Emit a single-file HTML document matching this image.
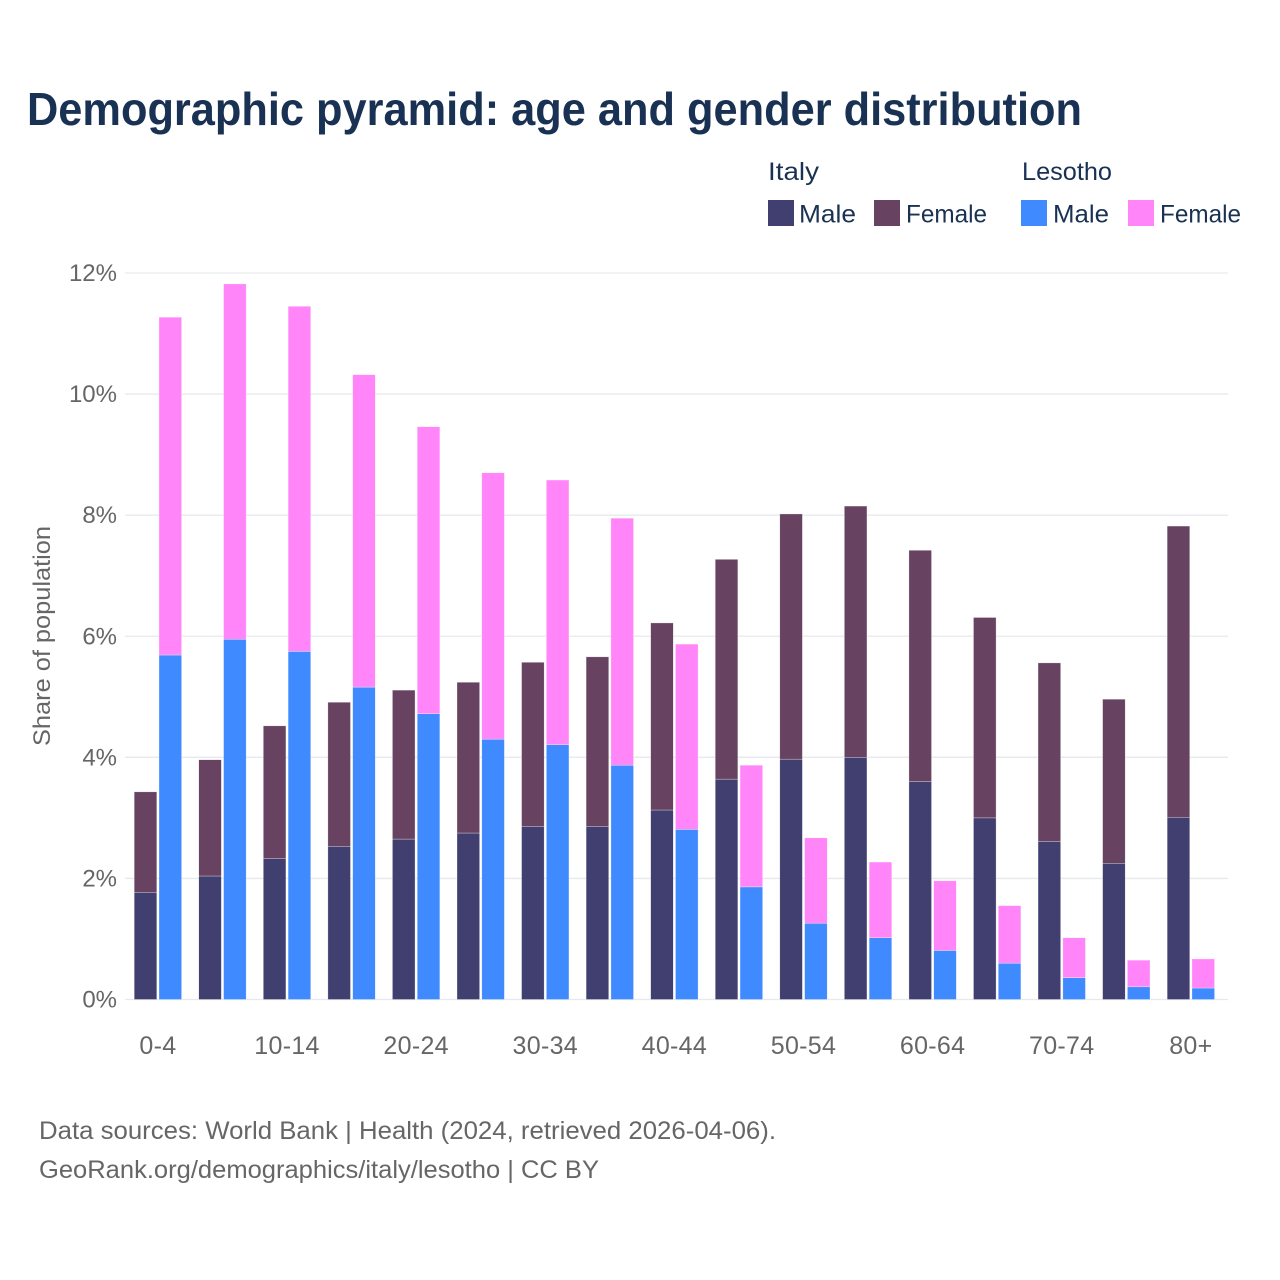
<!DOCTYPE html>
<html lang="en">
<head>
<meta charset="utf-8">
<title>Demographic pyramid: age and gender distribution</title>
<style>
html,body{margin:0;padding:0;background:#fff;}
svg{display:block;font-family:"Liberation Sans",sans-serif;}
</style>
</head>
<body>
<svg id="chart" width="1280" height="1280" viewBox="0 0 1280 1280" xmlns="http://www.w3.org/2000/svg">
  <rect width="1280" height="1280" fill="#ffffff"/>
  <text x="27" y="125" font-size="46" font-weight="700" fill="#193153" textLength="1055" lengthAdjust="spacingAndGlyphs">Demographic pyramid: age and gender distribution</text>

  <g font-size="25" fill="#193153">
    <text x="768" y="180" textLength="51" lengthAdjust="spacingAndGlyphs">Italy</text>
    <text x="1022" y="180" textLength="90" lengthAdjust="spacingAndGlyphs">Lesotho</text>
    <rect x="768" y="200" width="26" height="26" fill="#413f70"/>
    <text x="799" y="222.5" textLength="57" lengthAdjust="spacingAndGlyphs">Male</text>
    <rect x="874" y="200" width="26" height="26" fill="#674261"/>
    <text x="906" y="222.5" textLength="81" lengthAdjust="spacingAndGlyphs">Female</text>
    <rect x="1021" y="200" width="26" height="26" fill="#408aff"/>
    <text x="1053" y="222.5" textLength="56" lengthAdjust="spacingAndGlyphs">Male</text>
    <rect x="1128" y="200" width="26" height="26" fill="#ff85f9"/>
    <text x="1160" y="222.5" textLength="81" lengthAdjust="spacingAndGlyphs">Female</text>
  </g>

  <g id="grid"></g>
  <g id="y-ticks"></g>
  <g id="bars"></g>
  <g id="x-ticks"></g>

  <text transform="translate(50,636) rotate(-90)" text-anchor="middle" font-size="24" fill="#666666" textLength="220" lengthAdjust="spacingAndGlyphs">Share of population</text>

  <g font-size="25" fill="#666666">
    <text x="39" y="1139" textLength="737" lengthAdjust="spacingAndGlyphs">Data sources: World Bank | Health (2024, retrieved 2026-04-06).</text>
    <text x="39" y="1178" textLength="560" lengthAdjust="spacingAndGlyphs">GeoRank.org/demographics/italy/lesotho | CC BY</text>
  </g>
</svg>
<script>
const categories = ["0-4","5-9","10-14","15-19","20-24","25-29","30-34","35-39","40-44","45-49","50-54","55-59","60-64","65-69","70-74","75-79","80+"];
const xTickLabels = ["0-4","10-14","20-24","30-34","40-44","50-54","60-64","70-74","80+"];
const yTickValues = [0,2,4,6,8,10,12];
const italyMale = [1.77,2.04,2.33,2.53,2.65,2.75,2.86,2.86,3.13,3.64,3.97,4.00,3.60,3.00,2.61,2.25,3.01];
const italyFemale = [1.66,1.92,2.19,2.38,2.46,2.49,2.71,2.80,3.09,3.63,4.05,4.15,3.82,3.31,2.95,2.71,4.81];
const lesothoMale = [5.69,5.95,5.75,5.16,4.72,4.30,4.21,3.87,2.81,1.86,1.26,1.02,0.81,0.60,0.36,0.21,0.19];
const lesothoFemale = [5.58,5.87,5.70,5.16,4.74,4.40,4.37,4.08,3.06,2.01,1.41,1.25,1.15,0.95,0.66,0.44,0.48];

const NS = "http://www.w3.org/2000/svg";
const plotLeft = 125, plotRight = 1228, plotBottom = 999.5, plotTop = 273, yMax = 12;
const firstBarLeft = 134.2, groupStep = 64.56, barWidth = 22.6, barGap = 2.2;

function yScale(v) {
  return plotBottom - (v / yMax) * (plotBottom - plotTop);
}
function groupLeft(i) {
  return firstBarLeft + i * groupStep;
}
function make(tag, attrs, parent, text) {
  const el = document.createElementNS(NS, tag);
  for (const k in attrs) el.setAttribute(k, attrs[k]);
  if (text !== undefined) el.textContent = text;
  parent.appendChild(el);
  return el;
}

const gridG = document.getElementById("grid");
const yG = document.getElementById("y-ticks");
yTickValues.forEach(function (v) {
  const line = make("line", {x1: plotLeft, x2: plotRight, y1: yScale(v), y2: yScale(v), stroke: "#e6e9ee", "stroke-width": 1.3}, gridG);
  
  
  const label = make("text", {x: 117, y: yScale(v) + 8, "text-anchor": "end", "font-size": 24, fill: "#666666"}, yG, v + "%");
  
  
});

const barsG = document.getElementById("bars");
function stackedBar(x, male, female, maleColor, femaleColor, seriesName) {
  const yMale = yScale(male), yTotal = yScale(male + female);
  const lower = make("rect", {x: x, y: yMale, width: barWidth, height: plotBottom - yMale, fill: maleColor, stroke: "#ffffff", "stroke-width": 0.5, "stroke-opacity": 0.6}, barsG);
  
  
  const upper = make("rect", {x: x, y: yTotal, width: barWidth, height: yMale - yTotal, fill: femaleColor, stroke: "#ffffff", "stroke-width": 0.5, "stroke-opacity": 0.6}, barsG);
  
  
}
categories.forEach(function (c, i) {
  const x = groupLeft(i);
  stackedBar(x, italyMale[i], italyFemale[i], "#413f70", "#674261", "italy");
  stackedBar(x + barWidth + barGap, lesothoMale[i], lesothoFemale[i], "#408aff", "#ff85f9", "lesotho");
});

const xG = document.getElementById("x-ticks");
xTickLabels.forEach(function (c) {
  const i = categories.indexOf(c);
  const cx = groupLeft(i) + barWidth + barGap / 2;
  const label = make("text", {x: cx, y: 1054, "text-anchor": "middle", "font-size": 25, "letter-spacing": 0.3, fill: "#666666"}, xG, c);
  
  
});
</script>
</body>
</html>
